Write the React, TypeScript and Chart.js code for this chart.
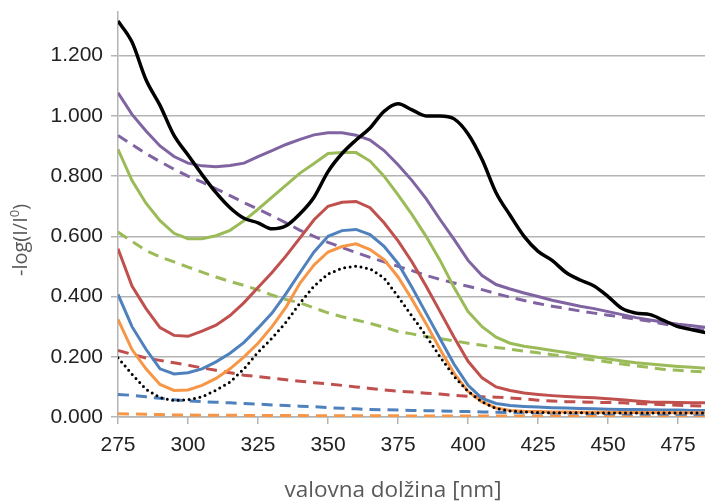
import React, { useEffect, useRef } from "react";
import { Chart, registerables } from "chart.js";

Chart.register(...registerables);

const wavelengths = [275, 280, 285, 290, 295, 300, 305, 310, 315, 320, 325, 330, 335, 340, 345, 350, 355, 360, 365, 370, 375, 380, 385, 390, 395, 400, 405, 410, 415, 420, 425, 430, 435, 440, 445, 450, 455, 460, 465, 470, 475, 480, 485];

const blackSolid = [1.315, 1.245, 1.12, 1.035, 0.935, 0.87, 0.805, 0.745, 0.695, 0.66, 0.645, 0.625, 0.635, 0.675, 0.73, 0.815, 0.875, 0.92, 0.96, 1.015, 1.04, 1.02, 1.0, 1.0, 0.99, 0.94, 0.855, 0.745, 0.67, 0.6, 0.55, 0.52, 0.48, 0.455, 0.435, 0.4, 0.36, 0.345, 0.34, 0.32, 0.3, 0.29, 0.28];
const purpleSolid = [1.077, 1.005, 0.95, 0.9, 0.865, 0.843, 0.834, 0.831, 0.835, 0.843, 0.865, 0.885, 0.905, 0.922, 0.937, 0.944, 0.944, 0.936, 0.92, 0.885, 0.838, 0.785, 0.725, 0.656, 0.59, 0.52, 0.47, 0.44, 0.425, 0.412, 0.4, 0.388, 0.378, 0.368, 0.36, 0.35, 0.34, 0.33, 0.322, 0.315, 0.308, 0.303, 0.298];
const purpleDashed = [0.935, 0.905, 0.875, 0.848, 0.823, 0.8, 0.78, 0.758, 0.735, 0.712, 0.69, 0.668, 0.645, 0.62, 0.6, 0.58, 0.563, 0.546, 0.53, 0.515, 0.5, 0.486, 0.47, 0.457, 0.445, 0.434, 0.423, 0.41, 0.398, 0.387, 0.377, 0.368, 0.36, 0.352, 0.345, 0.338, 0.332, 0.325, 0.318, 0.309, 0.3, 0.293, 0.288];
const greenSolid = [0.889, 0.785, 0.71, 0.652, 0.61, 0.592, 0.592, 0.602, 0.62, 0.652, 0.69, 0.73, 0.77, 0.81, 0.842, 0.875, 0.878, 0.878, 0.85, 0.8, 0.738, 0.672, 0.6, 0.52, 0.43, 0.35, 0.3, 0.265, 0.245, 0.235, 0.228, 0.221, 0.214, 0.207, 0.2, 0.193, 0.186, 0.18, 0.176, 0.172, 0.168, 0.165, 0.162];
const greenDashed = [0.614, 0.583, 0.553, 0.532, 0.515, 0.498, 0.481, 0.465, 0.45, 0.437, 0.422, 0.405, 0.39, 0.379, 0.362, 0.346, 0.333, 0.322, 0.311, 0.298, 0.284, 0.276, 0.267, 0.26, 0.253, 0.245, 0.238, 0.231, 0.225, 0.219, 0.213, 0.207, 0.201, 0.195, 0.189, 0.183, 0.176, 0.17, 0.164, 0.158, 0.155, 0.152, 0.15];
const redSolid = [0.559, 0.435, 0.36, 0.297, 0.271, 0.268, 0.285, 0.305, 0.337, 0.38, 0.43, 0.48, 0.535, 0.595, 0.655, 0.7, 0.713, 0.716, 0.695, 0.645, 0.585, 0.515, 0.435, 0.35, 0.265, 0.185, 0.13, 0.1, 0.088, 0.08, 0.075, 0.071, 0.068, 0.066, 0.064, 0.061, 0.057, 0.053, 0.05, 0.049, 0.048, 0.047, 0.047];
const redDashed = [0.221, 0.208, 0.196, 0.188, 0.18, 0.172, 0.163, 0.155, 0.147, 0.139, 0.134, 0.129, 0.124, 0.119, 0.114, 0.11, 0.105, 0.1, 0.095, 0.09, 0.086, 0.083, 0.079, 0.076, 0.072, 0.069, 0.067, 0.066, 0.063, 0.06, 0.056, 0.053, 0.051, 0.05, 0.049, 0.048, 0.047, 0.045, 0.043, 0.041, 0.039, 0.037, 0.036];
const blueSolid = [0.407, 0.3, 0.225, 0.16, 0.143, 0.147, 0.16, 0.183, 0.212, 0.248, 0.295, 0.345, 0.41, 0.48, 0.548, 0.6, 0.619, 0.623, 0.606, 0.567, 0.51, 0.43, 0.345, 0.26, 0.175, 0.105, 0.062, 0.045, 0.038, 0.035, 0.033, 0.031, 0.03, 0.028, 0.027, 0.026, 0.025, 0.025, 0.024, 0.023, 0.023, 0.022, 0.022];
const blueDashed = [0.075, 0.072, 0.067, 0.062, 0.057, 0.053, 0.051, 0.049, 0.047, 0.045, 0.043, 0.04, 0.038, 0.036, 0.034, 0.031, 0.029, 0.027, 0.025, 0.024, 0.023, 0.022, 0.021, 0.02, 0.019, 0.018, 0.017, 0.016, 0.015, 0.014, 0.014, 0.013, 0.013, 0.012, 0.012, 0.011, 0.011, 0.01, 0.01, 0.01, 0.009, 0.009, 0.009];
const orangeSolid = [0.324, 0.224, 0.16, 0.108, 0.088, 0.09, 0.105, 0.128, 0.16, 0.2, 0.245, 0.3, 0.365, 0.445, 0.505, 0.548, 0.566, 0.575, 0.556, 0.523, 0.465, 0.39, 0.31, 0.225, 0.145, 0.085, 0.05, 0.03, 0.022, 0.019, 0.018, 0.017, 0.017, 0.016, 0.016, 0.016, 0.015, 0.015, 0.015, 0.015, 0.014, 0.014, 0.014];
const orangeDashed = [0.011, 0.01, 0.009, 0.008, 0.007, 0.007, 0.006, 0.006, 0.006, 0.005, 0.005, 0.005, 0.005, 0.005, 0.004, 0.004, 0.004, 0.004, 0.004, 0.004, 0.004, 0.003, 0.003, 0.003, 0.003, 0.003, 0.003, 0.003, 0.003, 0.003, 0.003, 0.003, 0.003, 0.002, 0.002, 0.002, 0.002, 0.002, 0.002, 0.002, 0.002, 0.002, 0.002];
const blackDotted = [0.197, 0.142, 0.092, 0.064, 0.055, 0.057, 0.067, 0.089, 0.116, 0.16, 0.215, 0.262, 0.315, 0.379, 0.435, 0.475, 0.494, 0.501, 0.492, 0.462, 0.4, 0.335, 0.27, 0.2, 0.135, 0.085, 0.05, 0.028, 0.02, 0.017, 0.015, 0.014, 0.014, 0.014, 0.013, 0.013, 0.013, 0.013, 0.013, 0.013, 0.013, 0.013, 0.013];

const xTickValues = [275, 300, 325, 350, 375, 400, 425, 450, 475];
const yTickValues = [0, 0.2, 0.4, 0.6, 0.8, 1.0, 1.2];

const xTitle = "valovna dolžina [nm]";
const yTitleMain = "-log(I/I";
const yTitleSup = "0";
const yTitleEnd = ")";

const PURPLE = "#8064A2";
const GREEN = "#9BBB59";
const RED = "#C0504D";
const BLUE = "#4F81BD";
const ORANGE = "#F79646";
const GRID = "#b4b4b4";

function pts(values: number[]) {
  return wavelengths.map((x, i) => ({ x, y: values[i] }));
}

const titlePlugin = {
  id: "customTitles",
  afterDraw(chart: any) {
    const ctx = chart.ctx as CanvasRenderingContext2D;
    ctx.save();
    ctx.fillStyle = "#595959";
    ctx.font = "22.5px 'Open Sans'";
    ctx.textAlign = "center";
    ctx.textBaseline = "alphabetic";
    ctx.fillText(xTitle, 393, 497);

    ctx.translate(20, 240);
    ctx.rotate(-Math.PI / 2);
    const mainFont = "20px 'Open Sans'";
    const supFont = "13px 'Open Sans'";
    ctx.font = mainFont;
    const w1 = ctx.measureText(yTitleMain).width;
    const w3 = ctx.measureText(yTitleEnd).width;
    ctx.font = supFont;
    const w2 = ctx.measureText(yTitleSup).width;
    const total = w1 + w2 + w3;
    let cx = -total / 2;
    ctx.textAlign = "left";
    ctx.textBaseline = "alphabetic";
    const base = 7;
    ctx.font = mainFont;
    ctx.fillText(yTitleMain, cx, base);
    cx += w1;
    ctx.font = supFont;
    ctx.fillText(yTitleSup, cx, base - 8);
    cx += w2;
    ctx.font = mainFont;
    ctx.fillText(yTitleEnd, cx, base);
    ctx.restore();
  },
};

export default function App() {
  const canvasRef = useRef<HTMLCanvasElement | null>(null);

  useEffect(() => {
    if (!canvasRef.current) return;
    const solid = (label: string, data: number[], color: string, order: number, width = 3) => ({
      label,
      data: pts(data),
      borderColor: color,
      backgroundColor: color,
      borderWidth: width,
      pointRadius: 0,
      tension: 0,
      order,
    });
    const dashed = (label: string, data: number[], color: string, order: number) => ({
      label,
      data: pts(data),
      borderColor: color,
      backgroundColor: color,
      borderWidth: 3,
      borderDash: [11, 7],
      pointRadius: 0,
      tension: 0,
      order,
    });
    const chart = new Chart(canvasRef.current, {
      type: "line",
      data: {
        datasets: [
          { ...solid("sample", blackSolid, "#000000", 0, 3.5), cubicInterpolationMode: "monotone" },
          {
            label: "dotted",
            data: pts(blackDotted),
            borderColor: "#000000",
            borderWidth: 3,
            borderDash: [0, 5.5],
            borderCapStyle: "round",
            pointRadius: 0,
            tension: 0,
            order: 1,
          },
          solid("orange", orangeSolid, ORANGE, 2),
          solid("blue", blueSolid, BLUE, 3),
          solid("red", redSolid, RED, 4),
          solid("green", greenSolid, GREEN, 5),
          solid("purple", purpleSolid, PURPLE, 6),
          dashed("purple d", purpleDashed, PURPLE, 7),
          dashed("green d", greenDashed, GREEN, 8),
          dashed("red d", redDashed, RED, 9),
          dashed("blue d", blueDashed, BLUE, 10),
          dashed("orange d", orangeDashed, ORANGE, 11),
        ] as any,
      },
      options: {
        animation: false,
        responsive: true,
        maintainAspectRatio: false,
        layout: { padding: { top: 12, left: 0, right: 0, bottom: 0 } },
        plugins: {
          legend: { display: false },
          tooltip: { enabled: false },
        },
        scales: {
          x: {
            type: "linear",
            min: 275,
            max: 484.6,
            afterBuildTicks: (scale: any) => {
              scale.ticks = xTickValues.map((v) => ({ value: v }));
            },
            afterFit: (scale: any) => {
              scale.height = 85;
            },
            ticks: {
              color: "#222222",
              font: { family: "Liberation Sans", size: 21 },
              padding: 9,
              maxRotation: 0,
              callback: (v: any) => String(v),
            },
            grid: {
              drawOnChartArea: false,
              drawTicks: true,
              tickLength: 7,
              color: GRID,
              lineWidth: 1.5,
            },
            border: { display: true, color: GRID, width: 1.5 },
          },
          y: {
            type: "linear",
            min: 0,
            max: 1.345,
            afterBuildTicks: (scale: any) => {
              scale.ticks = yTickValues.map((v) => ({ value: v }));
            },
            afterFit: (scale: any) => {
              scale.width = 118;
              scale.paddingTop = 0;
              scale.paddingBottom = 0;
            },
            ticks: {
              color: "#222222",
              font: { family: "Liberation Sans", size: 21, lineHeight: 0.4 },
              padding: 8,
              callback: (v: any) => Number(v).toFixed(3),
            },
            grid: {
              drawOnChartArea: true,
              drawTicks: true,
              tickLength: 7,
              color: GRID,
              lineWidth: 1.5,
            },
            border: { display: true, color: GRID, width: 1.5 },
          },
        },
      },
      plugins: [titlePlugin],
    });
    return () => chart.destroy();
  }, []);

  return (
    <div style={{ position: "absolute", left: 0, top: 0, width: 705, height: 502, background: "#ffffff" }}>
      <canvas ref={canvasRef} />
    </div>
  );
}
